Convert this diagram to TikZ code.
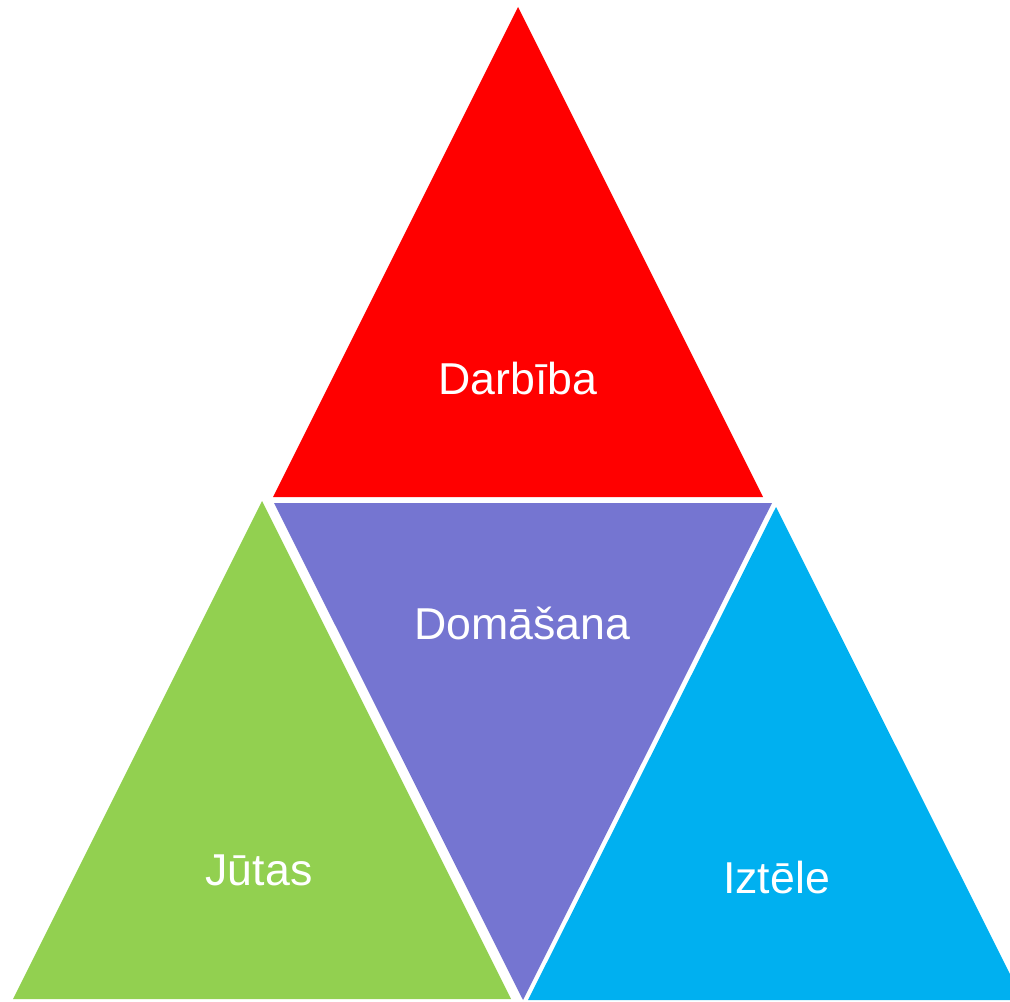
\documentclass[tikz,border=0pt]{standalone}
\usepackage{fontspec}
\setmainfont{Liberation Sans}
\definecolor{darbibared}{RGB}{255,0,0}
\definecolor{domasanaviolet}{RGB}{117,117,209}
\definecolor{jutasgreen}{RGB}{146,208,80}
\definecolor{iztelecyan}{RGB}{0,176,240}
\tikzset{every picture/.style={line width=0.75pt}}
\tikzset{tlabel/.style={anchor=base,inner sep=0.75pt,text=white,font=\fontsize{33.5}{40}\selectfont}}

\begin{document}
\begin{tikzpicture}[x=0.75pt,y=0.75pt,yscale=-1,xscale=1]
%set diagram size: 1010 x 1002
\path[use as bounding box] (0,0) rectangle (1010,1002);
\clip (0,0) rectangle (1010,1002);

%Shape: Triangle [id:darbiba] 
\fill [darbibared] (518,7) -- (763,497) -- (273,497) -- cycle ;
%Shape: Triangle [id:domasana] 
\fill [domasanaviolet] (274,503) -- (772,503) -- (523,1000) -- cycle ;
%Shape: Triangle [id:jutas] 
\fill [jutasgreen] (262,501) -- (511,999) -- (13,999) -- cycle ;
%Shape: Triangle [id:iztele] 
\fill [iztelecyan] (776,507) -- (1023,1000) -- (528,1000) -- cycle ;

% Text Node
\draw (518,394) node [tlabel] (darbiba) {Darbība};
% Text Node
\draw (522.5,639) node [tlabel] (domasana) {Domāšana};
% Text Node
\draw (259,885) node [tlabel] (jutas) {Jūtas};
% Text Node
\draw (776.5,893) node [tlabel] (iztele) {Iztēle};

\end{tikzpicture}
\end{document}
